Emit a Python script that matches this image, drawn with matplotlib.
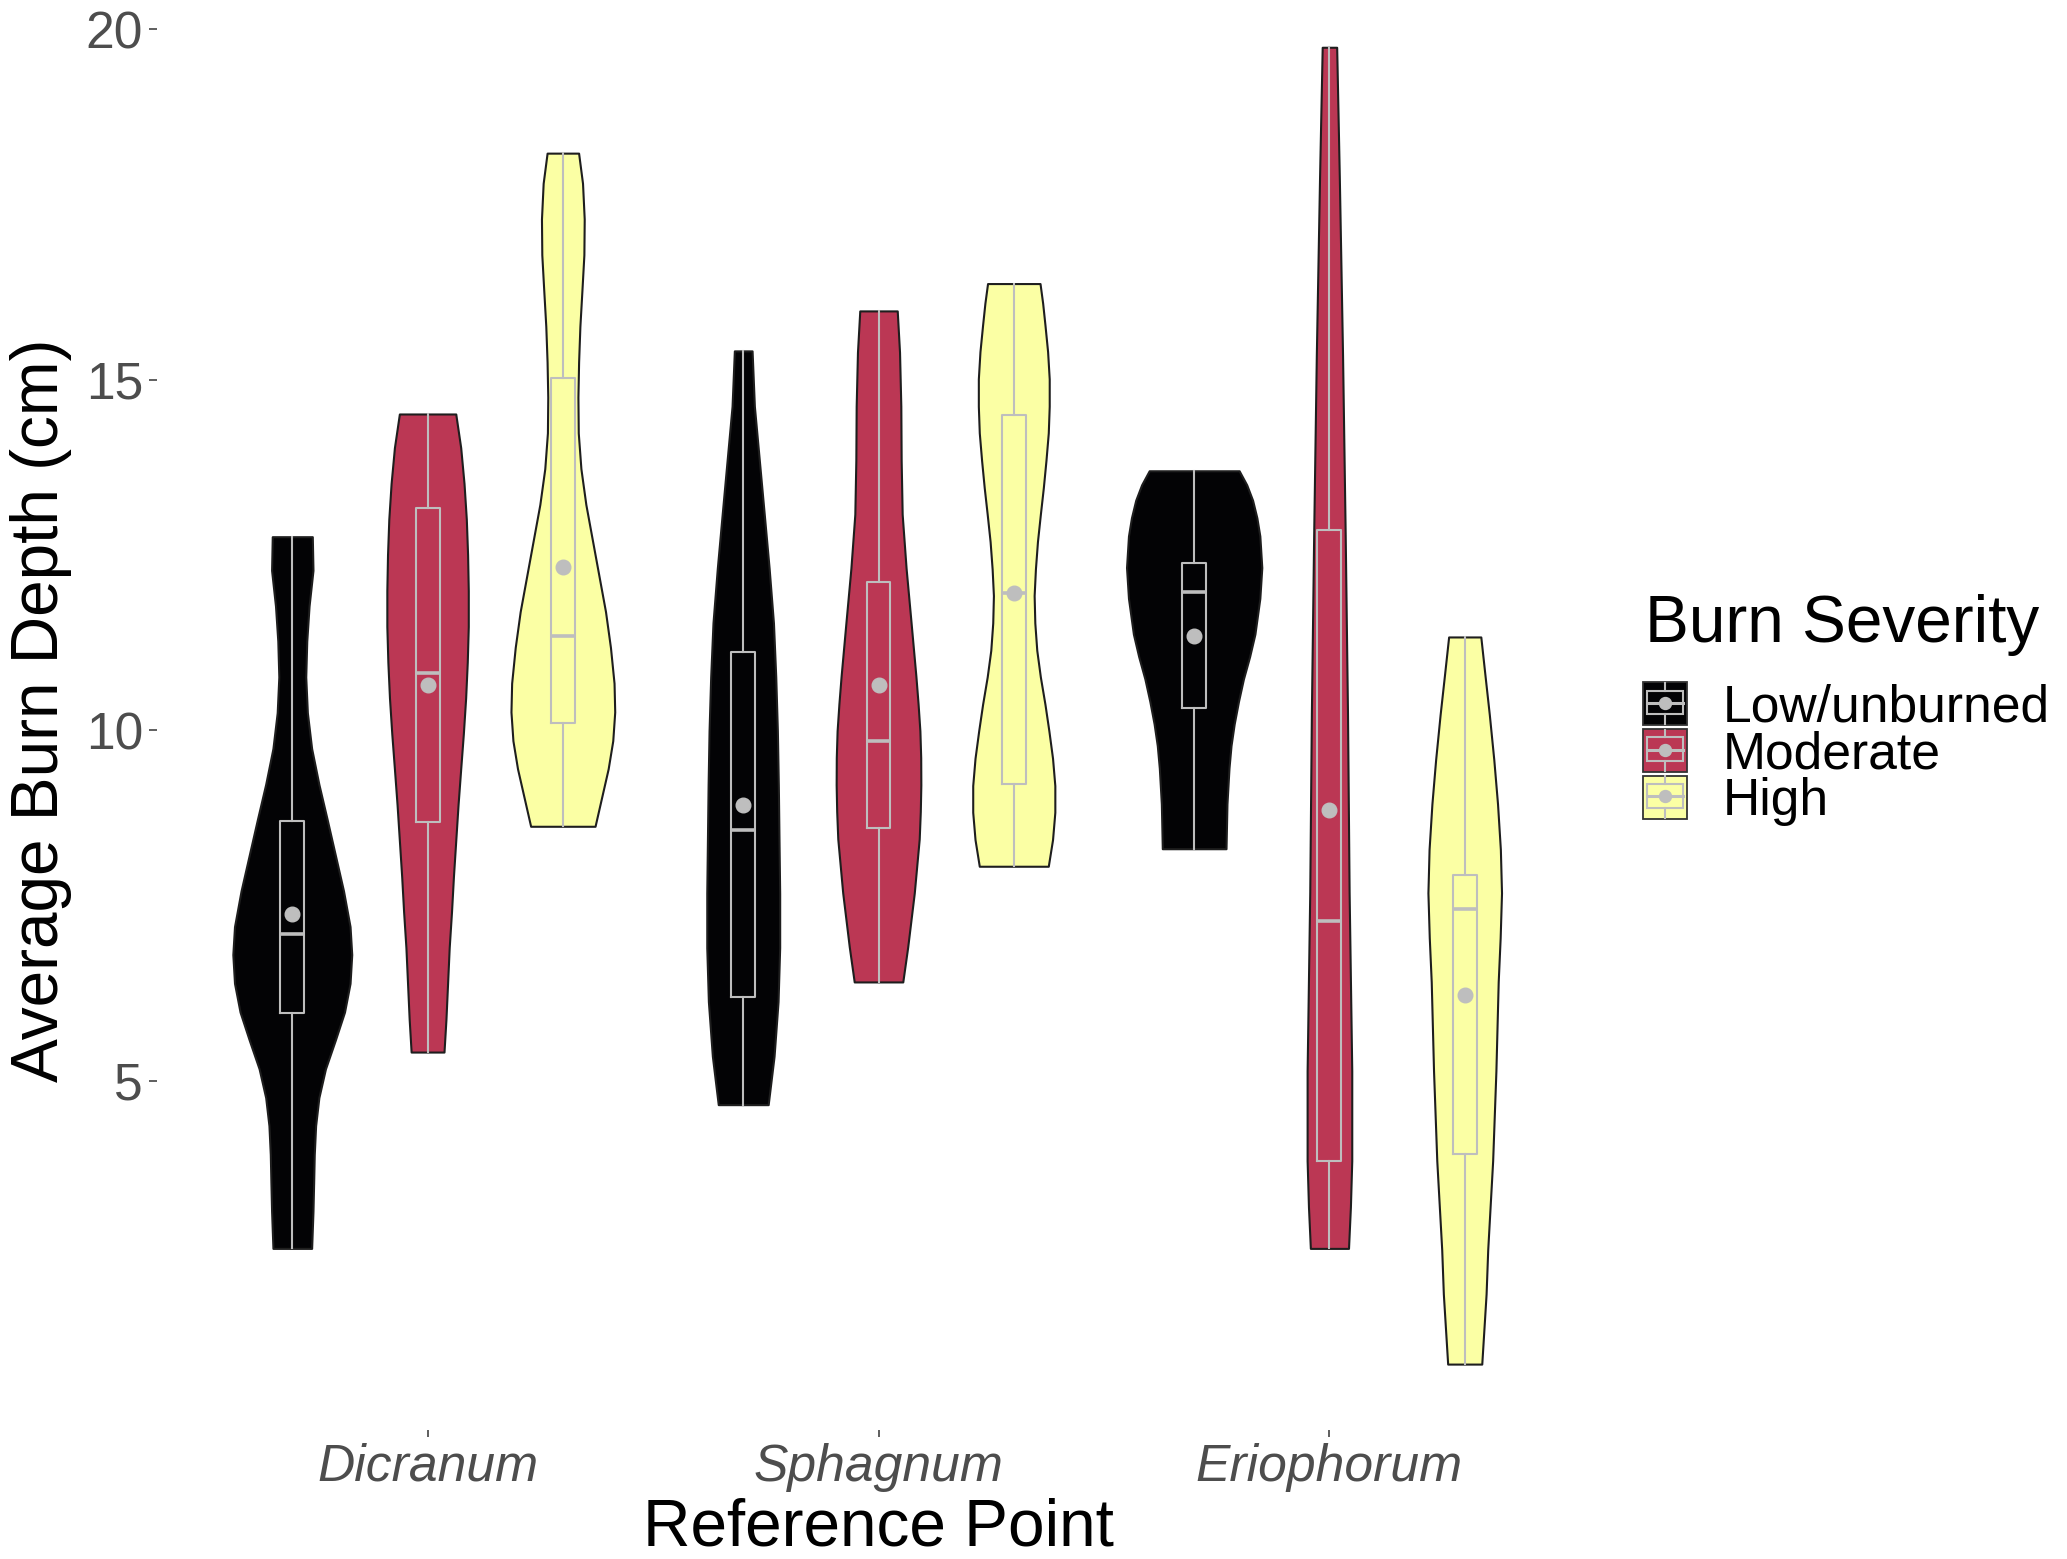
import numpy as np
import matplotlib
matplotlib.use('Agg')
import matplotlib.pyplot as plt
from matplotlib.legend_handler import HandlerBase
from matplotlib.patches import Rectangle
from matplotlib.lines import Line2D

# ---------------- data ----------------
categories = ['Dicranum', 'Sphagnum', 'Eriophorum']
severities = ['Low/unburned', 'Moderate', 'High']
severity_colors = ['#030305', '#BB3754', '#FBFFA4']

# box-plot statistics, [category][severity]
stat_min = [[2.61, 5.41, 8.63], [4.66, 6.41, 8.06], [8.31, 2.61, 0.96]]
stat_q1 = [[5.96, 8.69, 10.10], [6.19, 8.61, 9.24], [10.31, 3.86, 3.96]]
stat_median = [[7.10, 10.81, 11.34], [8.58, 9.84, 11.96], [11.97, 7.28, 7.45]]
stat_q3 = [[8.70, 13.17, 15.02], [11.12, 12.12, 14.49], [12.38, 12.85, 7.93]]
stat_max = [[12.76, 14.51, 18.23], [15.41, 15.98, 16.37], [13.70, 19.74, 11.33]]
stat_mean = [[7.38, 10.65, 12.33], [8.93, 10.64, 11.95], [11.34, 8.86, 6.23]]

# violin density profiles (levels in cm, relative density)
dicranum_low_y = [12.76, 12.28, 11.77, 11.27, 10.76, 10.25, 9.74, 9.23, 8.73, 8.22, 7.71, 7.20, 6.80, 6.39,
                  5.98, 5.58, 5.17, 4.76, 4.36, 3.95, 3.55, 3.14, 2.61]
dicranum_low_d = [0.296, 0.306, 0.248, 0.214, 0.199, 0.223, 0.286, 0.393, 0.515, 0.636, 0.757, 0.854, 0.879, 0.854,
                  0.772, 0.636, 0.490, 0.393, 0.345, 0.325, 0.316, 0.306, 0.286]
dicranum_mod_y = [14.51, 14.03, 13.52, 13.01, 12.50, 11.99, 11.48, 10.97, 10.46, 9.95, 9.45, 8.94, 8.43, 7.92,
                  7.41, 6.90, 6.39, 5.88, 5.41]
dicranum_mod_d = [0.417, 0.490, 0.539, 0.573, 0.592, 0.602, 0.602, 0.587, 0.563, 0.529, 0.490, 0.451, 0.417, 0.383,
                  0.354, 0.320, 0.296, 0.272, 0.243]
dicranum_high_y = [18.23, 17.80, 17.29, 16.78, 16.27, 15.76, 15.25, 14.75, 14.24, 13.73, 13.22, 12.71, 12.20, 11.69,
                   11.18, 10.67, 10.26, 9.85, 9.45, 9.04, 8.63]
dicranum_high_d = [0.233, 0.291, 0.316, 0.311, 0.282, 0.252, 0.233, 0.223, 0.228, 0.267, 0.340, 0.437, 0.534, 0.631,
                   0.704, 0.757, 0.767, 0.738, 0.670, 0.573, 0.476]
sphagnum_low_y = [15.41, 14.62, 13.85, 13.08, 12.31, 11.53, 10.76, 9.99, 9.22, 8.44, 7.67, 6.90, 6.13, 5.35, 4.66]
sphagnum_low_d = [0.131, 0.165, 0.238, 0.311, 0.383, 0.447, 0.481, 0.505, 0.519, 0.529, 0.539, 0.539, 0.515, 0.456, 0.369]
sphagnum_mod_y = [15.98, 15.39, 14.62, 13.85, 13.08, 12.31, 11.54, 10.77, 10.38, 9.99, 9.61, 9.22, 8.84, 8.45, 7.68, 6.91, 6.41]
sphagnum_mod_d = [0.277, 0.311, 0.330, 0.335, 0.350, 0.408, 0.481, 0.553, 0.585, 0.612, 0.624, 0.626, 0.618, 0.602, 0.529, 0.432, 0.359]
sphagnum_high_y = [16.37, 16.09, 15.78, 15.40, 15.01, 14.62, 14.24, 13.85, 13.46, 13.08, 12.69, 12.30, 11.92, 11.53,
                   11.14, 10.76, 10.37, 9.99, 9.60, 9.21, 8.83, 8.44, 8.06]
sphagnum_high_d = [0.388, 0.427, 0.461, 0.500, 0.524, 0.524, 0.510, 0.476, 0.437, 0.393, 0.350, 0.320, 0.301, 0.311,
                   0.340, 0.393, 0.461, 0.519, 0.573, 0.607, 0.607, 0.573, 0.510]
eriophorum_low_y = [13.70, 13.50, 13.28, 13.03, 12.77, 12.32, 11.88, 11.37, 11.05, 10.73, 10.41, 10.09, 9.78, 9.46, 8.95, 8.31]
eriophorum_low_d = [0.665, 0.777, 0.864, 0.927, 0.971, 1.000, 0.971, 0.898, 0.820, 0.728, 0.655, 0.592, 0.545, 0.515, 0.485, 0.471]
eriophorum_mod_y = [19.74, 17.89, 15.34, 12.79, 10.24, 7.69, 5.14, 3.86, 3.20, 2.61]
eriophorum_mod_d = [0.107, 0.146, 0.194, 0.233, 0.267, 0.291, 0.330, 0.330, 0.310, 0.282]
eriophorum_high_y = [11.33, 10.78, 10.22, 9.58, 8.95, 8.30, 7.68, 7.04, 6.41, 5.14, 3.86, 2.59, 1.96, 0.96]
eriophorum_high_d = [0.238, 0.300, 0.364, 0.430, 0.485, 0.527, 0.544, 0.524, 0.495, 0.461, 0.413, 0.340, 0.316, 0.252]

profiles = [
    [(dicranum_low_y, dicranum_low_d), (dicranum_mod_y, dicranum_mod_d), (dicranum_high_y, dicranum_high_d)],
    [(sphagnum_low_y, sphagnum_low_d), (sphagnum_mod_y, sphagnum_mod_d), (sphagnum_high_y, sphagnum_high_d)],
    [(eriophorum_low_y, eriophorum_low_d), (eriophorum_mod_y, eriophorum_mod_d), (eriophorum_high_y, eriophorum_high_d)],
]

yticks = [5, 10, 15, 20]

# ---------------- style ----------------
plt.rcParams['font.family'] = ['Liberation Sans', 'DejaVu Sans']
W, H = 2067, 1559
fig = plt.figure(figsize=(W / 100, H / 100), dpi=100)
fig.patch.set_facecolor('white')

ax = fig.add_axes([157 / W, 1 - 1430 / H, (1600 - 157) / W, 1430 / H])
ax.set_xlim(0.4, 3.6)
ax.set_ylim(0.02, 20.414)
for s in ax.spines.values():
    s.set_visible(False)

dodge = 0.3
max_violin_width = 0.3
box_width = 0.053
box_grey = '#BEBEBE'
outline = '#1E1E1E'

positions, vpstats, widths, colors, bstats = [], [], [], [], []
for ci in range(len(categories)):
    for si in range(len(severities)):
        yv, dv = profiles[ci][si]
        yv = np.asarray(yv)[::-1]
        dv = np.asarray(dv)[::-1]
        positions.append(ci + 1 + (si - 1) * dodge)
        vpstats.append(dict(coords=yv, vals=dv, mean=stat_mean[ci][si], median=stat_median[ci][si],
                            min=stat_min[ci][si], max=stat_max[ci][si]))
        widths.append(max_violin_width * dv.max())
        colors.append(severity_colors[si])
        bstats.append(dict(med=stat_median[ci][si], q1=stat_q1[ci][si], q3=stat_q3[ci][si],
                           whislo=stat_min[ci][si], whishi=stat_max[ci][si], mean=stat_mean[ci][si],
                           fliers=[]))

parts = ax.violin(vpstats, positions=positions, widths=widths,
                  showmeans=False, showextrema=False, showmedians=False)
for body, c in zip(parts['bodies'], colors):
    body.set_facecolor(c)
    body.set_edgecolor(outline)
    body.set_linewidth(1.5)
    body.set_alpha(1)
    body.set_zorder(2)

ax.bxp(bstats, positions=positions, widths=box_width, showcaps=False, showfliers=False,
       showmeans=True, manage_ticks=False, zorder=3,
       boxprops=dict(color=box_grey, linewidth=1.5),
       whiskerprops=dict(color=box_grey, linewidth=1.5),
       medianprops=dict(color=box_grey, linewidth=2.6, solid_capstyle='butt'),
       meanprops=dict(marker='o', markerfacecolor=box_grey, markeredgecolor=box_grey, markersize=10.5))

# axes ticks
ax.set_yticks(yticks)
ax.set_yticklabels([str(t) for t in yticks])
ax.set_xticks([1, 2, 3])
ax.set_xticklabels(categories, fontstyle='italic')
ax.tick_params(axis='y', length=5.8, width=1.1, color='#333333', pad=4.3,
               labelsize=37.2, labelcolor='#4D4D4D')
ax.tick_params(axis='x', length=5.0, width=1.1, color='#333333', pad=4.3,
               labelsize=37.2, labelcolor='#4D4D4D')

fig.text(41 / W, 1 - 710 / H, 'Average Burn Depth (cm)', rotation=90, ha='center', va='center',
         fontsize=47.3, color='black')
fig.text(878.5 / W, 1 - 1546 / H, 'Reference Point', ha='center', va='baseline',
         fontsize=47.3, color='black')

# ---------------- legend ----------------
class ViolinBoxKey(HandlerBase):
    def create_artists(self, legend, orig_handle, xdescent, ydescent, width, height, fontsize, trans):
        x0, y0 = -xdescent, -ydescent
        rect = Rectangle((x0, y0), width, height, facecolor=orig_handle.get_facecolor(),
                         edgecolor='#333333', linewidth=1.3, transform=trans)
        cx = x0 + width / 2
        bx0, bx1 = x0 + 0.10 * width, x0 + 0.90 * width
        by0, by1 = y0 + 0.25 * height, y0 + 0.80 * height
        box = Rectangle((bx0, by0), bx1 - bx0, by1 - by0, facecolor='none', edgecolor=box_grey,
                        linewidth=1.5, transform=trans)
        w1 = Line2D([cx, cx], [by1, y0 + 0.98 * height], color=box_grey, lw=1.5, transform=trans)
        w2 = Line2D([cx, cx], [y0 + 0.02 * height, by0], color=box_grey, lw=1.5, transform=trans)
        med = Line2D([bx0, bx1], [y0 + 0.52 * height] * 2, color=box_grey, lw=2.2, transform=trans)
        dot = Line2D([cx], [y0 + 0.52 * height], marker='o', color=box_grey, markersize=8.6,
                     linestyle='none', transform=trans)
        return [rect, box, w1, w2, med, dot]

handles = [Rectangle((0, 0), 1, 1, facecolor=c) for c in severity_colors]
hmap = {h: ViolinBoxKey() for h in handles}
fig.text(1645 / W, 1 - 642 / H, 'Burn Severity', ha='left', va='baseline', fontsize=47.3, color='black')
fig.legend(handles, severities, handler_map=hmap, loc='upper left',
           bbox_to_anchor=(1643 / W, 1 - 682 / H), bbox_transform=fig.transFigure,
           frameon=False, borderpad=0, borderaxespad=0, handlelength=0.85, handleheight=0.91,
           handletextpad=0.70, labelspacing=-0.07, fontsize=37.2)

fig.savefig('out.png', dpi=100, facecolor='white')
